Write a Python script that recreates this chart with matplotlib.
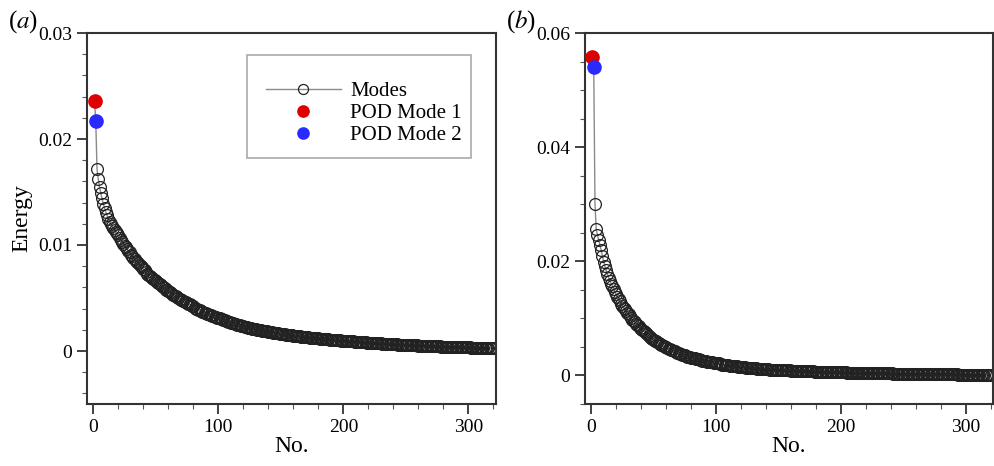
import matplotlib.pyplot as plt
from matplotlib.patches import Rectangle
from matplotlib.ticker import MultipleLocator
import numpy as np

plt.rcParams["font.family"] = ["Liberation Serif", "DejaVu Serif"]
plt.rcParams["mathtext.fontset"] = "stix"

# ── energy of each POD mode ──
energy_a = [
    0.0236, 0.0217, 0.0172, 0.0162, 0.0155, 0.0149, 0.0144, 0.0139, 0.0135, 0.0131,
    0.0128, 0.0125, 0.0122, 0.0120, 0.0118, 0.0116, 0.0114, 0.0112, 0.0111, 0.0109,
    0.0107, 0.0105, 0.0103, 0.0101, 0.0099, 0.0098, 0.0096, 0.0094, 0.0093, 0.0091,
    0.0090, 0.0088, 0.0087, 0.0085, 0.0084, 0.0083, 0.0081, 0.0080, 0.0079, 0.0077,
    0.0076, 0.0075, 0.0073, 0.0072, 0.0071, 0.0070, 0.0069, 0.0068, 0.0067, 0.0066,
    0.0065, 0.0064, 0.0063, 0.0062, 0.0061, 0.0060, 0.0059, 0.0058, 0.0058, 0.0057,
    0.0056, 0.0055, 0.0054, 0.0053, 0.0052, 0.0052, 0.0051, 0.0050, 0.0049, 0.0048,
    0.0048, 0.0047, 0.0046, 0.0046, 0.0045, 0.0044, 0.0044, 0.0043, 0.0042, 0.0042,
    0.0041, 0.0040, 0.0040, 0.0039, 0.0039, 0.0038, 0.0037, 0.0037, 0.0036, 0.0036,
    0.0035, 0.0035, 0.0034, 0.0034, 0.0033, 0.0033, 0.0032, 0.0032, 0.0031, 0.0031,
    0.0031, 0.0030, 0.0030, 0.00295, 0.0029, 0.00285, 0.0028, 0.00276, 0.00272, 0.00268,
    0.00264, 0.0026, 0.00256, 0.00252, 0.00248, 0.00245, 0.00242, 0.00239, 0.00236, 0.00233,
    0.0023, 0.00227, 0.00224, 0.00221, 0.00218, 0.00215, 0.00212, 0.0021, 0.00207, 0.00204,
    0.00202, 0.0020, 0.00197, 0.00195, 0.00193, 0.0019, 0.00188, 0.00186, 0.00184, 0.00182,
    0.0018, 0.00178, 0.00176, 0.00174, 0.00172, 0.0017, 0.00168, 0.00166, 0.00164, 0.00162,
    0.0016, 0.00158, 0.00157, 0.00155, 0.00153, 0.00152, 0.0015, 0.00148, 0.00147, 0.00145,
    0.00144, 0.00142, 0.00141, 0.00139, 0.00138, 0.00136, 0.00135, 0.00134, 0.00132, 0.00131,
    0.0013, 0.00128, 0.00127, 0.00126, 0.00124, 0.00123, 0.00122, 0.00121, 0.0012, 0.00118,
    0.00117, 0.00116, 0.00115, 0.00114, 0.00113, 0.00112, 0.00111, 0.0011, 0.00108, 0.00107,
    0.00106, 0.00105, 0.00104, 0.00103, 0.00102, 0.00101, 0.0010, 0.00099, 0.00098, 0.00097,
    0.00096, 0.00095, 0.00094, 0.00093, 0.00092, 0.00092, 0.00091, 0.0009, 0.00089, 0.00089,
    0.00088, 0.00087, 0.00086, 0.00085, 0.00084, 0.00083, 0.00082, 0.00081, 0.0008, 0.00079,
    0.00078, 0.00077, 0.00076, 0.00076, 0.00075, 0.00074, 0.00073, 0.00072, 0.00072, 0.00071,
    0.0007, 0.00069, 0.00069, 0.00068, 0.00067, 0.00066, 0.00066, 0.00065, 0.00064, 0.00064,
    0.00063, 0.00062, 0.00062, 0.00061, 0.0006, 0.0006, 0.00059, 0.00058, 0.00058, 0.00057,
    0.00057, 0.00056, 0.00055, 0.00055, 0.00054, 0.00054, 0.00053, 0.00052, 0.00052, 0.00051,
    0.00051, 0.0005, 0.0005, 0.00049, 0.00049, 0.00048, 0.00048, 0.00047, 0.00047, 0.00046,
    0.00046, 0.00045, 0.00045, 0.00044, 0.00044, 0.00043, 0.00043, 0.00042, 0.00042, 0.00041,
    0.00041, 0.00041, 0.0004, 0.0004, 0.00039, 0.00039, 0.00039, 0.00038, 0.00038, 0.00037,
    0.00037, 0.00037, 0.00036, 0.00036, 0.00036, 0.00035, 0.00035, 0.00035, 0.00034, 0.00034,
    0.00034, 0.00033, 0.00033, 0.00033, 0.00032, 0.00032, 0.00032, 0.00031, 0.00031, 0.00031,
    0.0003, 0.0003, 0.0003, 0.0003, 0.00029, 0.00029, 0.00029, 0.00028, 0.00028, 0.00028,
]

energy_b = [
    0.0558, 0.0540, 0.0300, 0.0256, 0.0246, 0.0237, 0.0228, 0.0219, 0.0209, 0.0199,
    0.0191, 0.0184, 0.0177, 0.0171, 0.0166, 0.0161, 0.0156, 0.0151, 0.0146, 0.0142,
    0.0138, 0.0134, 0.0130, 0.0126, 0.0122, 0.0119, 0.0116, 0.0113, 0.0110, 0.0107,
    0.0104, 0.0101, 0.0098, 0.0096, 0.0093, 0.0091, 0.0088, 0.0086, 0.0084, 0.0082,
    0.0080, 0.0078, 0.0076, 0.0074, 0.0072, 0.0070, 0.0068, 0.0066, 0.0064, 0.0063,
    0.0061, 0.0060, 0.0058, 0.0057, 0.0055, 0.0054, 0.0053, 0.0051, 0.0050, 0.0049,
    0.0048, 0.0047, 0.0046, 0.0045, 0.0044, 0.0043, 0.0042, 0.0041, 0.0040, 0.0039,
    0.0038, 0.0037, 0.0036, 0.0036, 0.0035, 0.0034, 0.0033, 0.0033, 0.0032, 0.0031,
    0.0031, 0.0030, 0.0030, 0.0029, 0.0028, 0.0028, 0.0027, 0.0027, 0.0026, 0.0026,
    0.0025, 0.0025, 0.0024, 0.0024, 0.0023, 0.0023, 0.0023, 0.0022, 0.0022, 0.0021,
    0.0021, 0.0021, 0.0020, 0.0020, 0.0019, 0.0019, 0.0019, 0.0018, 0.0018, 0.0018,
    0.0017, 0.0017, 0.0017, 0.0016, 0.0016, 0.0016, 0.0016, 0.0015, 0.0015, 0.0015,
    0.00146, 0.00143, 0.0014, 0.00138, 0.00136, 0.00134, 0.00132, 0.0013, 0.00128, 0.00126,
    0.00124, 0.00122, 0.0012, 0.00118, 0.00116, 0.00115, 0.00113, 0.00112, 0.0011, 0.00109,
    0.00107, 0.00106, 0.00104, 0.00103, 0.00102, 0.0010, 0.00099, 0.00098, 0.00097, 0.00096,
    0.00095, 0.00094, 0.00093, 0.00092, 0.00091, 0.0009, 0.00089, 0.00088, 0.00087, 0.00086,
    0.00085, 0.00084, 0.00083, 0.00082, 0.00081, 0.0008, 0.00079, 0.00078, 0.00077, 0.00076,
    0.00075, 0.00074, 0.00074, 0.00073, 0.00072, 0.00071, 0.0007, 0.0007, 0.00069, 0.00068,
    0.00067, 0.00066, 0.00066, 0.00065, 0.00064, 0.00063, 0.00063, 0.00062, 0.00061, 0.00061,
    0.0006, 0.00059, 0.00059, 0.00058, 0.00057, 0.00057, 0.00056, 0.00055, 0.00055, 0.00054,
    0.00054, 0.00053, 0.00052, 0.00052, 0.00051, 0.00051, 0.0005, 0.0005, 0.00049, 0.00049,
    0.00048, 0.00048, 0.00047, 0.00047, 0.00046, 0.00046, 0.00045, 0.00045, 0.00044, 0.00044,
    0.00043, 0.00043, 0.00042, 0.00042, 0.00041, 0.00041, 0.0004, 0.0004, 0.0004, 0.00039,
    0.00039, 0.00038, 0.00038, 0.00037, 0.00037, 0.00037, 0.00036, 0.00036, 0.00035, 0.00035,
    0.00035, 0.00034, 0.00034, 0.00033, 0.00033, 0.00033, 0.00032, 0.00032, 0.00031, 0.00031,
    0.00031, 0.0003, 0.0003, 0.0003, 0.00029, 0.00029, 0.00029, 0.00028, 0.00028, 0.00028,
    0.00027, 0.00027, 0.00027, 0.00026, 0.00026, 0.00026, 0.00025, 0.00025, 0.00025, 0.00024,
    0.00024, 0.00024, 0.00023, 0.00023, 0.00023, 0.00022, 0.00022, 0.00022, 0.00021, 0.00021,
    0.00021, 0.0002, 0.0002, 0.0002, 0.00019, 0.00019, 0.00019, 0.00018, 0.00018, 0.00018,
    0.00017, 0.00017, 0.00017, 0.00016, 0.00016, 0.00016, 0.00015, 0.00015, 0.00015, 0.00014,
    0.00014, 0.00014, 0.00013, 0.00013, 0.00013, 0.00012, 0.00012, 0.00012, 0.00011, 0.00011,
    0.00011, 0.0001, 0.0001, 0.0001, 0.00009, 0.00009, 0.00009, 0.00008, 0.00008, 0.00008,
]

panel_labels = ["a", "b"]
x_ticks = [0, 100, 200, 300]
y_ticks_a = [0, 0.01, 0.02, 0.03]
y_ticks_b = [0, 0.02, 0.04, 0.06]


def draw_panel(ax, energy, y_lim, y_ticks, y_minor):
    n = np.arange(1, len(energy) + 1)
    ax.plot(n, energy, color="#8a8a8a", lw=1.0, marker="o", ms=8.5,
            mfc="none", mec="#222222", mew=0.9, label="Modes", zorder=2)
    ax.plot(n[0], energy[0], "o", color="#dd0000", ms=9.5, label="POD Mode 1", zorder=3)
    ax.plot(n[1], energy[1], "o", color="#2a2aff", ms=9.5, label="POD Mode 2", zorder=3)

    ax.set_xlim(-5, 322)
    ax.set_ylim(*y_lim)
    ax.set_xticks(x_ticks)
    ax.set_yticks(y_ticks)
    ax.set_yticklabels(["0" if t == 0 else f"{t:g}" for t in y_ticks])
    ax.xaxis.set_minor_locator(MultipleLocator(20))
    ax.yaxis.set_minor_locator(MultipleLocator(y_minor))
    ax.tick_params(which="major", direction="out", length=7, width=1.3,
                   labelsize=14, top=False, right=False, color="#333333")
    ax.tick_params(which="minor", direction="out", length=3.5, width=0.8,
                   top=False, right=False, color="#555555")
    for s in ax.spines.values():
        s.set_linewidth(1.5)
        s.set_color("#333333")
    ax.set_xlabel("No.", fontsize=17, labelpad=0)


fig = plt.figure(figsize=(9.94, 4.66), dpi=100)
ax_a = fig.add_axes([87 / 994, 1 - 404 / 466, 409 / 994, 371 / 466])
ax_b = fig.add_axes([585 / 994, 1 - 404 / 466, 408 / 994, 371 / 466])

draw_panel(ax_a, energy_a, (-0.005, 0.03), y_ticks_a, 0.002)
draw_panel(ax_b, energy_b, (-0.005, 0.06), y_ticks_b, 0.005)
ax_a.set_ylabel("Energy", fontsize=17, labelpad=4)

# legend box in panel (a)
ax_a.add_patch(Rectangle((0.391, 0.663), 0.548, 0.278, transform=ax_a.transAxes,
                         fill=False, ec="#aaaaaa", lw=1.2, zorder=4))
ax_a.legend(loc="upper left", bbox_to_anchor=(0.412, 0.898), frameon=False,
            fontsize=15, handlelength=3.6, handletextpad=0.45,
            labelspacing=0.13, borderpad=0, markerscale=0.85)

for ax, lab in zip([ax_a, ax_b], panel_labels):
    pos = ax.get_position()
    fig.text(pos.x0 - 79 / 994, 1 - 22 / 466, "($\\mathit{" + lab + "}$)",
             fontsize=18, va="center")

fig.savefig("out.png", dpi=100)
